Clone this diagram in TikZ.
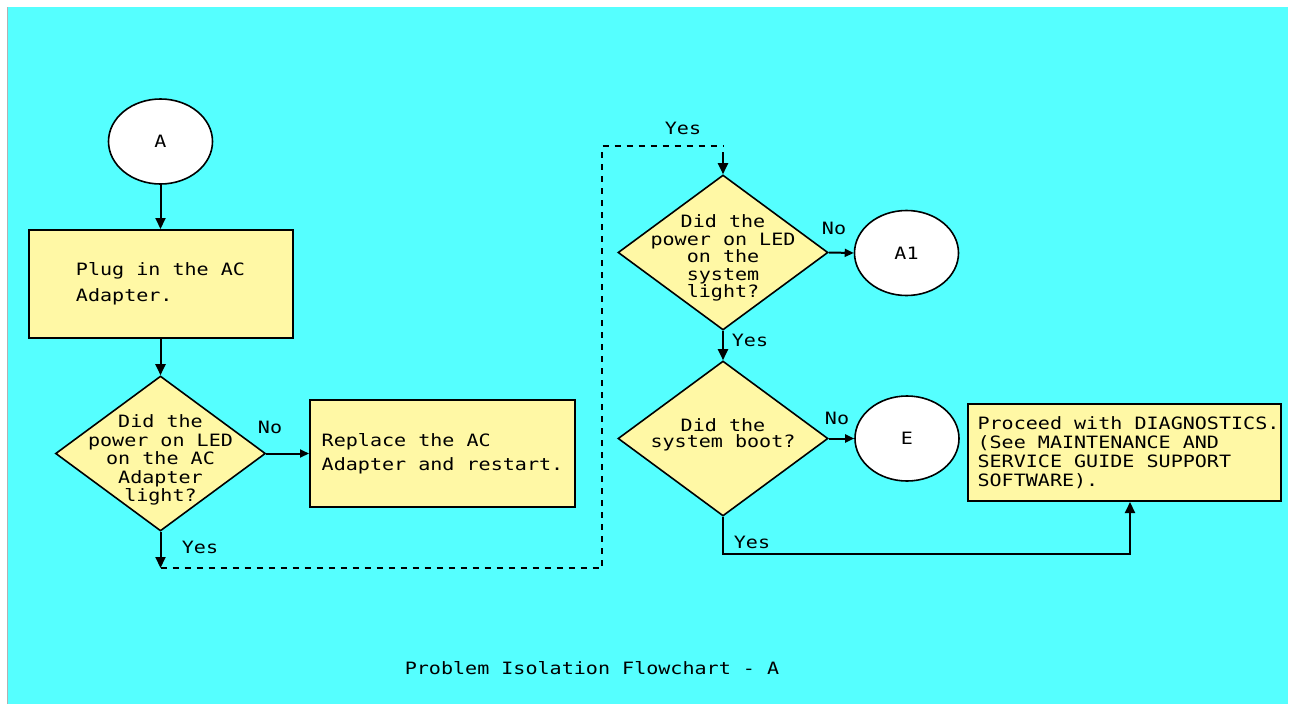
\documentclass[tikz,border=0pt]{standalone}
\usepackage{fontspec}
\usetikzlibrary{shapes.geometric,arrows.meta,calc}
\newfontfamily\pix{DejaVu Sans Mono}[FakeStretch=1.18]
\definecolor{bgcyan}{RGB}{85,255,255}
\definecolor{boxyellow}{RGB}{255,248,165}
\begin{document}
\begin{tikzpicture}[x=1pt,y=-1pt,
  every node/.style={font=\pix\fontsize{17}{18}\selectfont},
  conn/.style={line width=2pt, draw=black},
  arr/.style={conn,-{Triangle[length=11pt,width=10pt]}},
  harr/.style={conn,-{Triangle[length=9pt,width=8pt]}},
  oval/.style={ellipse, draw, line width=1.6pt, fill=white, minimum width=104pt, minimum height=85pt, inner sep=0pt},
  procbox/.style={rectangle, draw, line width=2pt, fill=boxyellow, align=left, inner sep=0pt},
  decbox/.style={diamond, draw, line width=1.6pt, fill=boxyellow, minimum width=210pt, minimum height=155pt, inner sep=0pt},
  dectext/.style={align=center, inner sep=0pt},
  lbl/.style={inner sep=0pt},
]
\useasboundingbox (0,0) rectangle (1290,704);
\fill[white] (0,0) rectangle (1290,704);
\fill[bgcyan] (8,7) rectangle (1288,704);
\draw[gray!60, line width=1pt] (7.5,7) -- (7.5,704);

\node[oval] (A) at (160.5,141.5) {A};
\node[procbox, minimum width=264pt, minimum height=108pt, font=\pix\fontsize{17}{26}\selectfont] (plug) at (160.5,284) {Plug in the AC\\Adapter.};
\node[decbox] (d1) at (160.5,453.5) {};
\node[dectext, font=\pix\fontsize{17}{18.5}\selectfont] (d1t) at (160.5,460) {Did the\\power on LED\\on the AC\\Adapter\\light?};
\node[procbox, minimum width=265pt, minimum height=107pt, font=\pix\fontsize{17}{24}\selectfont] (repl) at (442.5,453.5) {Replace the AC\\Adapter and restart.};
\node[decbox] (d2) at (723,252.5) {};
\node[dectext, font=\pix\fontsize{17}{17.5}\selectfont] (d2t) at (723,258) {Did the\\power on LED\\on the\\system\\light?};
\node[oval] (A1) at (906.5,253) {A1};
\node[decbox] (d3) at (723,438.5) {};
\node[dectext, font=\pix\fontsize{17}{16.5}\selectfont] (d3t) at (723,435) {Did the\\system boot?};
\node[oval] (E) at (907,438.5) {E};
\node[procbox, minimum width=313pt, minimum height=97pt, font=\pix\fontsize{17}{19}\selectfont] (diag) at (1124.5,452.5) {\hspace*{8pt}Proceed with DIAGNOSTICS.\\\hspace*{8pt}(See MAINTENANCE AND\\\hspace*{8pt}SERVICE GUIDE SUPPORT\\\hspace*{8pt}SOFTWARE).};

\coordinate (c1) at (160.5,568);
\coordinate (c2) at (602,568);
\coordinate (c3) at (602,146);
\coordinate (c4) at (723,146);
\coordinate (c5) at (723,152);
\coordinate (c6) at (723,554);
\coordinate (c7) at (1130,554);

\draw[arr] (A.south) -- (plug.north);
\draw[arr] (plug.south) -- (d1.north);
\draw[harr] (d1.east) -- (repl.west);
\draw[arr] (d1.south) -- (c1);
\draw[conn, dash pattern=on 6pt off 6pt] (c1) -- (c2) -- (c3) -- (c4);
\draw[arr] (c5) -- (d2.north);
\draw[harr] (d2.east) -- (A1.west);
\draw[arr] (d2.south) -- (d3.north);
\draw[harr] (d3.east) -- (E.west);
\draw[arr] (d3.south) -- (c6) -- (c7) -- (c7 |- diag.south);

\node[lbl] (y1) at (200,547) {Yes};
\node[lbl] (n1) at (270,427) {No};
\node[lbl] (y0) at (683,128) {Yes};
\node[lbl] (n2) at (834,228) {No};
\node[lbl] (y2) at (750,340) {Yes};
\node[lbl] (n3) at (837,418) {No};
\node[lbl] (y3) at (752,542) {Yes};
\node[lbl] (cap) at (592,668) {Problem Isolation Flowchart - A};
\end{tikzpicture}
\end{document}
